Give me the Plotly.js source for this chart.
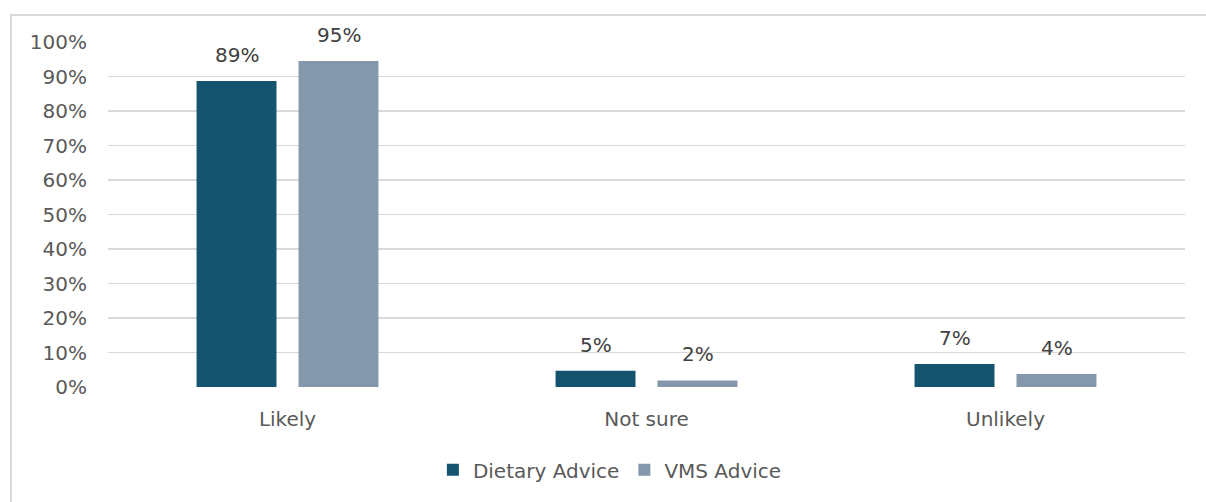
<!DOCTYPE html>
<html>
<head>
<meta charset="utf-8">
<script src="https://cdn.plot.ly/plotly-3.0.1.min.js"></script>
<style>
  html, body { margin: 0; padding: 0; background: #ffffff; overflow: hidden; }
  #wrap { position: relative; width: 1206px; height: 502px; }
  #frame { position: absolute; left: 10px; top: 14px; width: 1210px; height: 520px;
           border: 2px solid #d9d9d9; box-sizing: border-box; pointer-events: none; }
  #chart { position: absolute; left: 0; top: 0; width: 1206px; height: 502px; }
</style>
</head>
<body>
<div id="wrap">
  <div id="frame"></div>
  <div id="chart"></div>
</div>
<script>
const categories = ["Likely", "Not sure", "Unlikely"];
const dietaryValues = [88.7, 4.7, 6.7];
const vmsValues = [94.5, 1.9, 3.8];
const dietaryLabels = ["89%", "5%", "7%"];
const vmsLabels = ["95%", "2%", "4%"];
const yTickVals = [0, 10, 20, 30, 40, 50, 60, 70, 80, 90, 100];
const yTickText = ["0%", "10%", "20%", "30%", "40%", "50%", "60%", "70%", "80%", "90%", "100%"];

const fontFamily = "DejaVu Sans, sans-serif";

const traces = [
  { type: "bar", name: "Dietary Advice", x: categories, y: dietaryValues,
    marker: { color: "#14546E" }, hoverinfo: "skip" },
  { type: "bar", name: "VMS Advice", x: categories, y: vmsValues,
    marker: { color: "#8598AB" }, hoverinfo: "skip" }
];

const annotations = [];
categories.forEach((c, i) => {
  annotations.push({ x: c, y: dietaryValues[i], text: dietaryLabels[i], xref: "x", yref: "y",
    showarrow: false, xshift: -51, yshift: 12, yanchor: "bottom",
    font: { family: fontFamily, size: 20, color: "#404040" } });
  annotations.push({ x: c, y: vmsValues[i], text: vmsLabels[i], xref: "x", yref: "y",
    showarrow: false, xshift: 51, yshift: 12, yanchor: "bottom",
    font: { family: fontFamily, size: 20, color: "#404040" } });
});

const layout = {
  width: 1206, height: 502,
  margin: { l: 108, r: 21, t: 42, b: 115, pad: 0 },
  paper_bgcolor: "rgba(0,0,0,0)",
  plot_bgcolor: "rgba(0,0,0,0)",
  barmode: "group",
  bargap: 0.432,
  bargroupgap: 0.216,
  font: { family: fontFamily, size: 20, color: "#595959" },
  xaxis: { type: "category", showgrid: false, zeroline: false, showline: false,
    ticks: "", ticklabelstandoff: 18, tickfont: { size: 20, color: "#595959" } },
  yaxis: { range: [0, 100], tickvals: yTickVals, ticktext: yTickText,
    showgrid: true, gridcolor: "#d9d9d9", gridwidth: 1.5, zeroline: false,
    showline: false, ticks: "", ticklabelstandoff: 20,
    tickfont: { size: 20, color: "#595959" } },
  showlegend: true,
  legend: { orientation: "h", x: 0.466, xanchor: "center", y: -0.24, yanchor: "middle",
    font: { size: 20, color: "#595959" }, itemwidth: 30, traceorder: "normal" },
  annotations: annotations
};

Plotly.newPlot("chart", traces, layout, { displayModeBar: false, staticPlot: true });
</script>
</body>
</html>
